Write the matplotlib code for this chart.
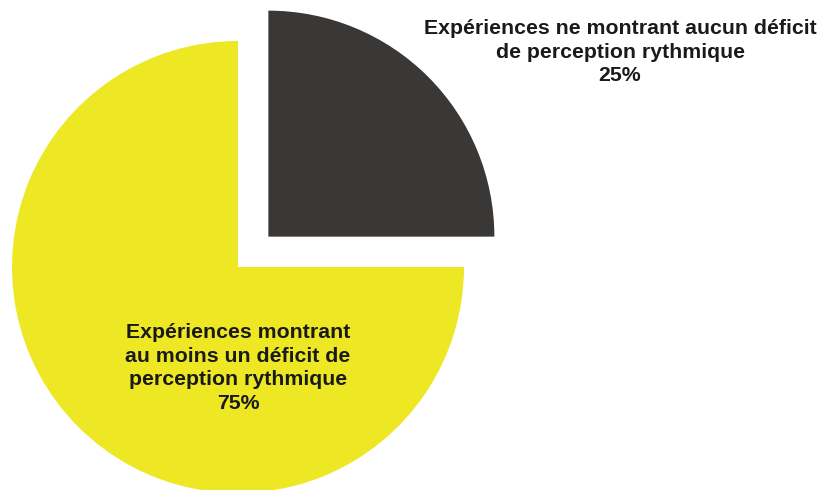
import matplotlib
matplotlib.use("Agg")
import matplotlib.pyplot as plt

categories = ["Expériences ne montrant aucun déficit\nde perception rythmique",
              "Expériences montrant\nau moins un déficit de\nperception rythmique"]
values = [25, 75]
colors = ["#3a3836", "#ede724"]
explode_frac = [0.19, 0.0]

radius = 226
fig = plt.figure(figsize=(8.19, 4.9), dpi=100)
ax = fig.add_axes([0, 0, 1, 1])
ax.pie(values, colors=colors, explode=[e * radius for e in explode_frac],
       startangle=0, counterclock=True,
       center=(238, 223), radius=radius, wedgeprops=dict(linewidth=0))
ax.set_xlim(0, 819)
ax.set_ylim(0, 490)
ax.set_aspect('equal')
ax.axis('off')

font = dict(family=['Liberation Sans', 'DejaVu Sans'], fontweight='bold', fontsize=15.3,
            color='#1a1a1a', ha='center', va='center', linespacing=1.32)
ax.text(620, 438, f"{categories[0]}\n{values[0]}%", **font)
ax.text(238, 122, f"{categories[1]}\n{values[1]}%", **font)

fig.savefig("out.png", dpi=100)
